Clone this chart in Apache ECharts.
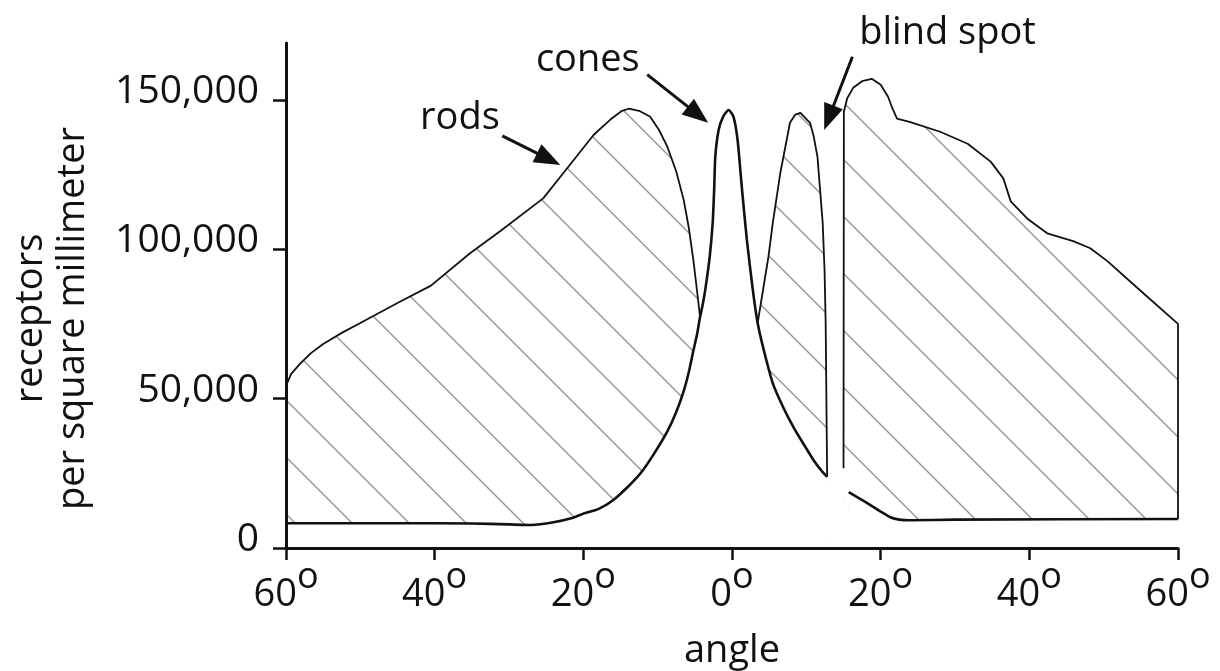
<!DOCTYPE html>
<html><head><meta charset="utf-8">
<script src="https://cdn.jsdelivr.net/npm/echarts@6/dist/echarts.min.js"></script>
<style>html,body{margin:0;padding:0;background:#fff}#c{width:1220px;height:671px}</style>
</head><body><div id="c"></div>
<script>
// ---- data ----
const xTicks = [-60, -40, -20, 0, 20, 40, 60];
const yTicks = [0, 50000, 100000, 150000];

const rodsAngle = [-60,-59.3,-58.1,-56.6,-55,-52.5,-50,-45,-40.5,-35.2,-31.2,-25.4,-22.2,-18.6,-16.4,-14.8,-13.9,-12.5,-11,-9.8,-8.7,-7.5,-6.5,-5.8,-5.2,-4.7,-4.3,-3.5,-2.5,3.0,
  3.45,4.9,5.5,6.5,7.8,8.5,9.2,10.5,11.0,11.5,12.2,12.45,12.6,12.8,13.8,
  15.0,15.05,15.5,16.3,17.5,18.8,20.0,21.0,21.6,22.2,24.0,28.0,31.7,34.8,36.5,37.5,39.7,42.4,45.9,48.2,50.5,55.0,60,60];
const rodsDensity = [54300,58300,61700,65300,68300,72000,75300,82000,87800,98700,106000,117000,127000,138300,143300,146300,147000,146300,144300,139800,134300,126000,116500,107000,96400,86000,77300,40000,0,0,
  75300,97400,109000,125500,142300,145000,145600,142300,137600,130900,108800,93000,75300,23800,null,
  26700,146000,150500,154000,156200,157000,155000,151000,147000,143700,142500,139300,135300,129300,123700,116000,110300,105300,102700,100300,96000,86000,75000,9700];

const conesAngle = [-60,-45,-35,-30,-27,-24,-21.5,-20,-18,-16,-14,-12.3,-10.5,-8.7,-7.5,-6.5,-5.8,-5.2,-4.7,-4.3,-4.0,-3.6,-3.0,-2.6,-2.4,-2.25,-1.8,-1.2,-0.45,0.2,0.75,1.35,2.0,2.8,3.45,
  4.3,5.5,7.0,8.3,9.7,11.0,12.0,12.8,13.8,15.7,17.0,18.2,20.0,21.3,22.5,24.0,30,60];
const conesDensity = [8300,8300,8200,7900,7700,8600,10000,11500,13000,16000,20500,25000,31500,39000,45500,52500,59000,66000,71500,77300,80700,86400,97400,108800,119900,130900,139900,144300,146600,144300,136600,119900,103100,86400,75300,
  66000,55000,46500,40300,34500,29300,26000,23800,null,18700,16800,15000,12200,10300,9500,9300,9500,9700];

// blank strip under the blind-spot edge (between the rods edge and where the cone curve resumes)
const gapAngle = [15.0, 15.7];
const gapDensity = [26000, 18700];

const notes = [
  {text: 'rods', at: [-36.6, 144000]},
  {text: 'cones', at: [-19.4, 163400]},
  {text: 'blind spot', at: [29.0, 172400]}
];
const arrows = [
  {from: [-30.9, 137900], to: [-23.1, 128200]},
  {from: [-11.4, 158400], to: [-3.2, 142300]},
  {from: [16.2, 164400], to: [12.4, 139900]}
];

const zip = (a, b) => a.map((v, i) => [v, b[i]]);
const FONT = '"Open Sans", "Noto Sans", sans-serif';
const INK = '#111';

// hatch pattern
const S = 57;
const pc = document.createElement('canvas');
pc.width = S; pc.height = S;
const g = pc.getContext('2d');
g.strokeStyle = '#959595';
g.lineWidth = 1.4;
for (const k of [-S, 0, S]) { g.beginPath(); g.moveTo(k - 3, -3); g.lineTo(k + S + 3, S + 3); g.stroke(); }

const chart = echarts.init(document.getElementById('c'), null, {renderer: 'canvas'});
const option = {
  animation: false,
  backgroundColor: '#fff',
  grid: {left: 286, right: 42, top: 43, bottom: 123, containLabel: false, outerBoundsMode: 'none'},
  xAxis: {
    type: 'value', min: -60, max: 60, interval: 20, z: 10,
    name: 'angle', nameLocation: 'middle', nameGap: 82,
    nameTextStyle: {fontSize: 38, fontFamily: FONT, color: INK, lineHeight: 42},
    axisLine: {show: true, onZero: false, lineStyle: {color: INK, width: 3}},
    axisTick: {show: true, length: 12, lineStyle: {color: INK, width: 2.5}},
    splitLine: {show: false},
    axisLabel: {
      margin: 22,
      formatter: v => '{n|' + Math.abs(v) + '}{s|o}',
      rich: {
        n: {fontSize: 38, fontFamily: FONT, color: INK, lineHeight: 44, verticalAlign: 'bottom'},
        s: {fontSize: 36, fontFamily: FONT, color: INK, lineHeight: 44, verticalAlign: 'bottom', padding: [0, 0, 18, 0]}
      }
    }
  },
  yAxis: {
    type: 'value', min: 0, max: 169000, z: 10,
    name: 'receptors\nper square millimeter', nameLocation: 'middle', nameRotate: 90, nameGap: 192,
    nameTextStyle: {fontSize: 38, fontFamily: FONT, color: INK, lineHeight: 42, padding: [0, 46, 0, 0]},
    axisLine: {show: true, onZero: false, lineStyle: {color: INK, width: 3}},
    axisTick: {show: true, length: 13, customValues: yTicks, lineStyle: {color: INK, width: 2.5}},
    splitLine: {show: false},
    axisLabel: {
      customValues: yTicks, margin: 27,
      fontSize: 39, fontFamily: FONT, color: INK, lineHeight: 16, verticalAlign: 'bottom',
      formatter: v => (v % 50000 === 0 ? v.toLocaleString('en-US') : '')
    }
  },
  series: [
    {
      name: 'rods', type: 'line', data: zip(rodsAngle, rodsDensity), z: 2,
      showSymbol: false, symbol: 'none', smooth: false, connectNulls: false, clip: false,
      lineStyle: {color: INK, width: 1.8},
      areaStyle: {color: {image: pc, repeat: 'repeat'}, opacity: 1}
    },
    {
      name: 'gap', type: 'line', data: zip(gapAngle, gapDensity), z: 2.5,
      showSymbol: false, symbol: 'none', clip: false,
      lineStyle: {width: 0, opacity: 0},
      areaStyle: {color: '#fff', opacity: 1}
    },
    {
      name: 'cones', type: 'line', data: zip(conesAngle, conesDensity), z: 3,
      showSymbol: false, symbol: 'none', smooth: 0.2, connectNulls: false, clip: false,
      lineStyle: {color: INK, width: 2.6},
      areaStyle: {color: '#fff', opacity: 1}
    }
  ]
};
chart.setOption(option);

function buildGraphic() {
  const els = [];
  const px = p => chart.convertToPixel({gridIndex: 0}, p);
  notes.forEach(n => {
    const p = px(n.at);
    els.push({type: 'text', x: p[0], y: p[1], z: 20,
      style: {text: n.text, fontSize: 38, fontFamily: FONT, fill: INK, align: 'center', verticalAlign: 'middle'}});
  });
  arrows.forEach(a => {
    const t = px(a.from), h = px(a.to);
    const dx = h[0] - t[0], dy = h[1] - t[1];
    const len = Math.hypot(dx, dy);
    const ux = dx / len, uy = dy / len, nx = -uy, ny = ux;
    const L = 26, W = 20;
    const bx = h[0] - ux * L, by = h[1] - uy * L;
    els.push({type: 'line', z: 20, shape: {x1: t[0], y1: t[1], x2: bx + ux * 2, y2: by + uy * 2},
      style: {stroke: INK, lineWidth: 3}});
    els.push({type: 'polygon', z: 20, shape: {points: [[h[0], h[1]], [bx + nx * W / 2, by + ny * W / 2], [bx - nx * W / 2, by - ny * W / 2]]},
      style: {fill: INK}});
  });
  return els;
}
chart.setOption({graphic: buildGraphic()});
</script></body></html>
